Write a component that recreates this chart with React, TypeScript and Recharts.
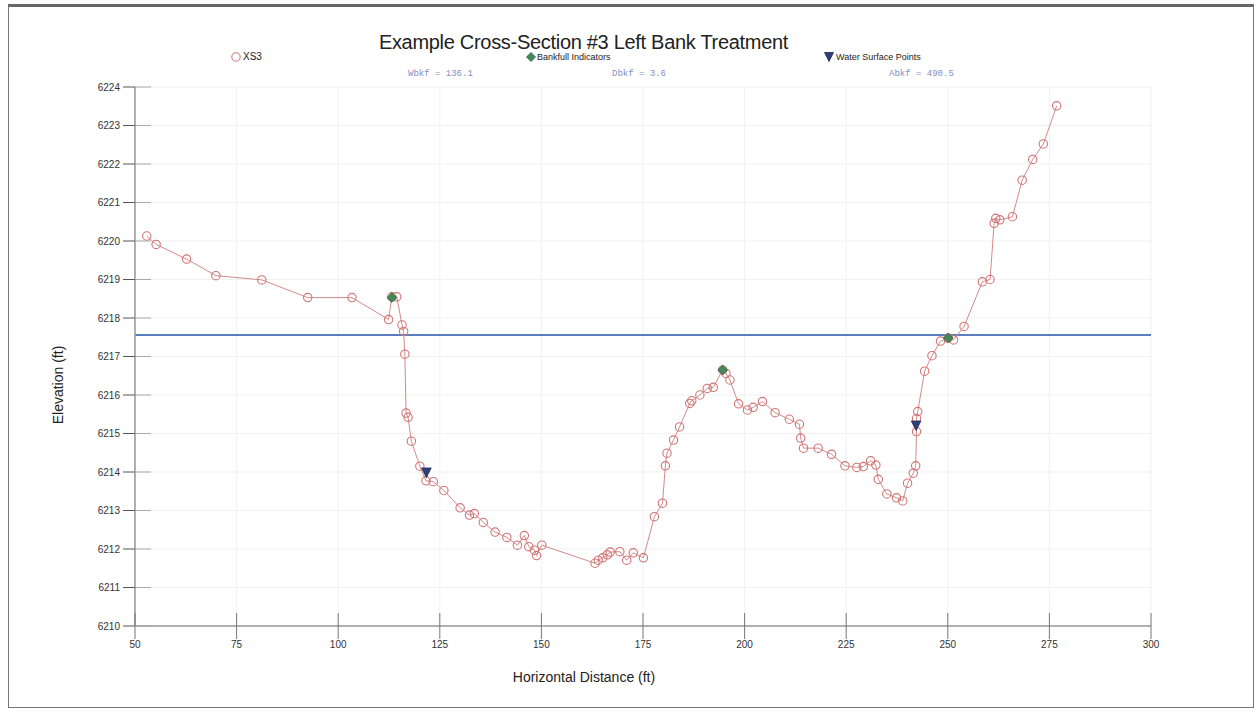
import React from "react";
import {
  ScatterChart,
  Scatter,
  XAxis,
  YAxis,
  CartesianGrid,
  ReferenceLine,
} from "recharts";

const xs3Station = [
  52.9, 55.2, 62.7, 69.9, 81.2, 92.5, 103.4, 112.4, 113.2, 114.4, 115.7, 116.1,
  116.4, 116.7, 117.2, 118.0, 120.1, 121.6, 123.4, 126.0, 130.0, 132.3, 133.5,
  135.7, 138.6, 141.5, 144.1, 145.8, 146.9, 148.3, 148.8, 150.1, 163.2, 164.0,
  165.1, 166.2, 166.9, 169.3, 171.0, 172.6, 175.1, 177.8, 179.8, 180.5, 180.9,
  182.5, 184.0, 186.5, 187.0, 189.0, 190.8, 192.3, 194.6, 195.4, 196.4, 198.5,
  200.7, 202.1, 204.4, 207.5, 211.0, 213.5, 213.8, 214.5, 218.1, 221.4, 224.7,
  227.6, 229.2, 231.0, 232.3, 232.9, 235.0, 237.4, 238.9, 240.1, 241.5, 242.1,
  242.3, 242.3, 242.6, 244.3, 246.1, 248.2, 250.1, 251.4, 254.0, 258.5, 260.4,
  261.4, 261.8, 262.8, 265.9, 268.3, 270.9, 273.5, 276.8,
];
const xs3Elevation = [
  6220.13, 6219.91, 6219.53, 6219.1, 6218.99, 6218.53, 6218.53, 6217.96,
  6218.55, 6218.55, 6217.82, 6217.65, 6217.06, 6215.53, 6215.42, 6214.8,
  6214.15, 6213.77, 6213.75, 6213.52, 6213.07, 6212.88, 6212.92, 6212.69,
  6212.44, 6212.3, 6212.1, 6212.35, 6212.06, 6211.97, 6211.83, 6212.1, 6211.63,
  6211.71, 6211.77, 6211.85, 6211.92, 6211.93, 6211.71, 6211.9, 6211.77,
  6212.84, 6213.19, 6214.16, 6214.49, 6214.83, 6215.17, 6215.78, 6215.85,
  6216.0, 6216.17, 6216.2, 6216.65, 6216.56, 6216.39, 6215.77, 6215.61,
  6215.68, 6215.83, 6215.54, 6215.37, 6215.24, 6214.88, 6214.62, 6214.62,
  6214.46, 6214.16, 6214.12, 6214.14, 6214.29, 6214.18, 6213.81, 6213.43,
  6213.33, 6213.25, 6213.71, 6213.97, 6214.16, 6215.05, 6215.39, 6215.57,
  6216.62, 6217.02, 6217.4, 6217.48, 6217.43, 6217.78, 6218.94, 6219.0,
  6220.46, 6220.59, 6220.55, 6220.63, 6221.58, 6222.12, 6222.52, 6223.51,
];

const bankfullStation = [113.2, 194.6, 250.1];
const bankfullElevation = [6218.53, 6216.65, 6217.48];

const waterStation = [121.7, 242.2];
const waterElevation = [6213.98, 6215.2];

const bankfullLevel = 6217.56;

const xTicks = [50, 75, 100, 125, 150, 175, 200, 225, 250, 275, 300];
const yTicks = [
  6210, 6211, 6212, 6213, 6214, 6215, 6216, 6217, 6218, 6219, 6220, 6221, 6222,
  6223, 6224,
];

const annotations = ["Wbkf = 136.1", "Dbkf = 3.6", "Abkf = 490.5"];

const xs3Data = xs3Station.map((x, i) => ({ x, y: xs3Elevation[i] }));
const bankfullData = bankfullStation.map((x, i) => ({ x, y: bankfullElevation[i] }));
const waterData = waterStation.map((x, i) => ({ x, y: waterElevation[i] }));

const FONT = "'Liberation Sans', Arial, sans-serif";

const CircleShape = (props: any) => {
  const { cx, cy } = props;
  if (cx == null || cy == null) return null;
  return <circle cx={cx} cy={cy} r={4.2} fill="none" stroke="#d27474" strokeWidth={1.1} />;
};

const DiamondShape = (props: any) => {
  const { cx, cy } = props;
  if (cx == null || cy == null) return null;
  const s = 4.8;
  return (
    <polygon
      points={`${cx},${cy - s} ${cx + s},${cy} ${cx},${cy + s} ${cx - s},${cy}`}
      fill="#3f8a58"
      stroke="#2c5e3c"
      strokeWidth={0.8}
    />
  );
};

const TriangleShape = (props: any) => {
  const { cx, cy } = props;
  if (cx == null || cy == null) return null;
  const s = 4.8;
  return (
    <polygon
      points={`${cx - s},${cy - s} ${cx + s},${cy - s} ${cx},${cy + s}`}
      fill="#2f3f78"
      stroke="#1f2a55"
      strokeWidth={0.8}
    />
  );
};

const YTick = (props: any) => {
  const { x, y, payload } = props;
  const axisX = x + 14;
  return (
    <g>
      <line x1={axisX - 12} y1={y} x2={axisX} y2={y} stroke="#555" strokeWidth={1} />
      <line x1={axisX} y1={y} x2={axisX + 16} y2={y} stroke="#aaa" strokeWidth={1} />
      <text x={x - 1} y={y + 3.5} textAnchor="end" fontSize={10} fontFamily={FONT} fill="#333">
        {payload.value}
      </text>
    </g>
  );
};

const XTick = (props: any) => {
  const { x, y, payload } = props;
  const axisY = y - 13;
  return (
    <g>
      <line x1={x} y1={axisY - 13} x2={x} y2={axisY + 13} stroke="#777" strokeWidth={1} />
      <text x={x} y={axisY + 22} textAnchor="middle" fontSize={10} fontFamily={FONT} fill="#333">
        {payload.value}
      </text>
    </g>
  );
};

const abs = (style: React.CSSProperties): React.CSSProperties => ({
  position: "absolute",
  whiteSpace: "nowrap",
  fontFamily: FONT,
  color: "#222",
  ...style,
});

export default function App() {
  return (
    <div style={{ position: "relative", width: 1260, height: 715, background: "#fff" }}>
      <style>{"body{margin:0;}"}</style>
      <div
        style={{
          position: "absolute",
          left: 8,
          top: 4,
          width: 1244,
          height: 700,
          borderTop: "3px solid #666",
          borderLeft: "1px solid #777",
          borderRight: "1px solid #777",
          borderBottom: "1px solid #777",
        }}
      />
      <ScatterChart
        width={1260}
        height={715}
        margin={{ top: 87, right: 109, bottom: 49, left: 75 }}
        style={{ position: "absolute", left: 0, top: 0 }}
      >
        <CartesianGrid stroke="#f1f1f1" strokeWidth={1} />
        <XAxis
          type="number"
          dataKey="x"
          domain={[50, 300]}
          ticks={xTicks}
          interval={0}
          height={40}
          tickSize={13}
          tickMargin={0}
          tickLine={false}
          tick={<XTick />}
          axisLine={{ stroke: "#999", strokeWidth: 1.5 }}
          allowDataOverflow
        />
        <YAxis
          type="number"
          dataKey="y"
          domain={[6210, 6224]}
          ticks={yTicks}
          interval={0}
          width={60}
          tickSize={14}
          tickMargin={0}
          tickLine={false}
          tick={<YTick />}
          axisLine={{ stroke: "#999", strokeWidth: 1.5 }}
          allowDataOverflow
        />
        <ReferenceLine y={bankfullLevel} stroke="#5a7fbf" strokeWidth={2} ifOverflow="extendDomain" />
        <Scatter
          name="XS3"
          data={xs3Data}
          line={{ stroke: "#d48a8a", strokeWidth: 1 }}
          lineType="joint"
          shape={<CircleShape />}
          isAnimationActive={false}
        />
        <Scatter
          name="Bankfull Indicators"
          data={bankfullData}
          shape={<DiamondShape />}
          isAnimationActive={false}
        />
        <Scatter
          name="Water Surface Points"
          data={waterData}
          shape={<TriangleShape />}
          isAnimationActive={false}
        />
      </ScatterChart>

      <div style={abs({ left: 0, width: 1167, top: 30, textAlign: "center", fontSize: 20, lineHeight: "24px", letterSpacing: -0.3 })}>
        Example Cross-Section #3 Left Bank Treatment
      </div>

      <svg style={{ position: "absolute", left: 226, top: 50 }} width={20} height={14}>
        <circle cx={10} cy={7} r={4.2} fill="none" stroke="#d27474" strokeWidth={1.1} />
      </svg>
      <div style={abs({ left: 243, top: 51, fontSize: 10, lineHeight: "12px" })}>XS3</div>

      <svg style={{ position: "absolute", left: 521, top: 50 }} width={20} height={14}>
        <polygon points="10,2.5 14.5,7 10,11.5 5.5,7" fill="#3f8a58" stroke="#2c5e3c" strokeWidth={0.8} />
      </svg>
      <div style={abs({ left: 537, top: 52, fontSize: 9, lineHeight: "11px" })}>Bankfull Indicators</div>

      <svg style={{ position: "absolute", left: 819, top: 50 }} width={20} height={14}>
        <polygon points="5.5,2.5 14.5,2.5 10,11.5" fill="#2f3f78" stroke="#1f2a55" strokeWidth={0.8} />
      </svg>
      <div style={abs({ left: 836, top: 52, fontSize: 9, lineHeight: "11px" })}>Water Surface Points</div>

      <div style={abs({ left: 408, top: 69, fontSize: 9, lineHeight: "11px", fontFamily: "'Liberation Mono', 'DejaVu Sans Mono', monospace", color: "#7f90c4" })}>
        {annotations[0]}
      </div>
      <div style={abs({ left: 612, top: 69, fontSize: 9, lineHeight: "11px", fontFamily: "'Liberation Mono', 'DejaVu Sans Mono', monospace", color: "#7f90c4" })}>
        {annotations[1]}
      </div>
      <div style={abs({ left: 889, top: 69, fontSize: 9, lineHeight: "11px", fontFamily: "'Liberation Mono', 'DejaVu Sans Mono', monospace", color: "#7f90c4" })}>
        {annotations[2]}
      </div>

      <div
        style={abs({
          left: 58,
          top: 385,
          fontSize: 14,
          lineHeight: "16px",
          transform: "translate(-50%, -50%) rotate(-90deg)",
        })}
      >
        Elevation (ft)
      </div>
      <div style={abs({ left: 0, width: 1168, top: 669, textAlign: "center", fontSize: 14, lineHeight: "16px" })}>
        Horizontal Distance (ft)
      </div>
    </div>
  );
}
